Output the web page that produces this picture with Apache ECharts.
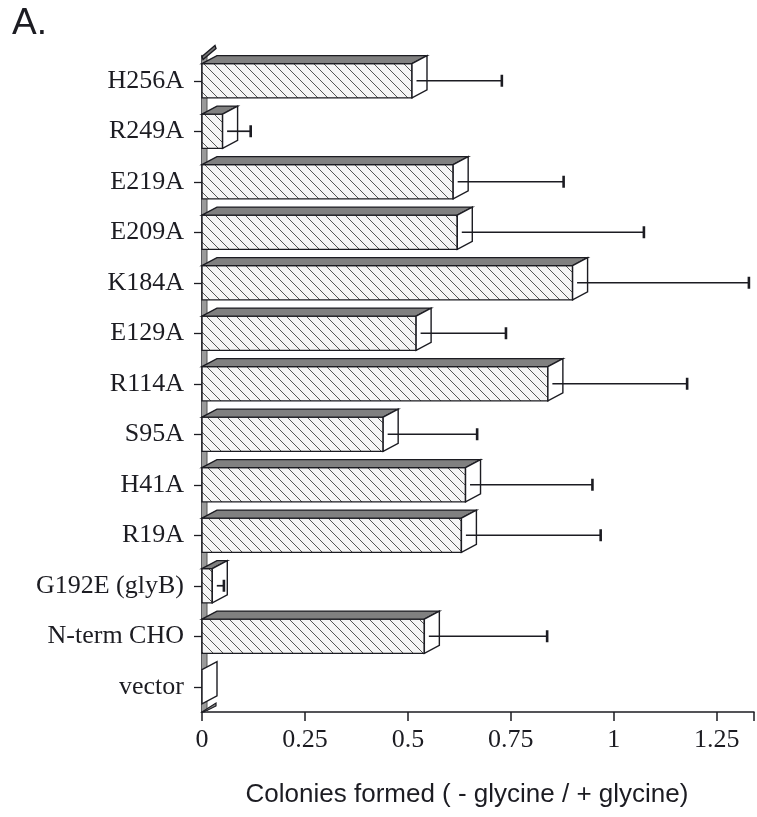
<!DOCTYPE html>
<html><head><meta charset="utf-8">
<script src="https://cdn.jsdelivr.net/npm/echarts@6/dist/echarts.min.js"></script>
<style>html,body{margin:0;padding:0;background:#fff}#c{width:757px;height:817px}</style>
</head><body><div id="c"></div>
<script>
const categories = ['H256A','R249A','E219A','E209A','K184A','E129A','R114A','S95A','H41A','R19A','G192E (glyB)','N-term CHO','vector'];
const values = [0.51, 0.05, 0.61, 0.62, 0.90, 0.52, 0.84, 0.44, 0.64, 0.63, 0.025, 0.54, 0];
const errors = [0.20, 0.05, 0.25, 0.435, 0.41, 0.20, 0.32, 0.21, 0.29, 0.32, 0.01, 0.28, 0];
const xTicks = [0, 0.25, 0.5, 0.75, 1, 1.25];
const xTitle = 'Colonies formed ( - glycine / + glycine)';
const panelLabel = 'A.';

const INK = '#1c1c22';
function makeHatch(){
  const c = document.createElement('canvas'); c.width = 10; c.height = 10;
  const g = c.getContext('2d');
  g.fillStyle = '#f5f5f5'; g.fillRect(0,0,10,10);
  g.strokeStyle = '#555555'; g.lineWidth = 1;
  g.beginPath();
  g.moveTo(-1,-1); g.lineTo(11,11);
  g.moveTo(-1,9); g.lineTo(1,11);
  g.moveTo(9,-1); g.lineTo(11,1);
  g.stroke();
  return c;
}
const hatchFill = {image: makeHatch(), repeat: 'repeat'};
const DX = 15, DY = 8;

function renderBar(params, api){
  const i = api.value(0), v = api.value(1), e = api.value(2);
  const c0 = api.coord([0, i]), c1 = api.coord([v, i]);
  const band = api.size([0, 1])[1];
  const h = band * 0.68;
  const x0 = c0[0], x1 = c1[0], cy = c0[1], yT = cy - h/2, yB = cy + h/2;
  const st = {stroke: INK, lineWidth: 1.4};
  const ch = [];
  if (x1 > x0 + 0.5) {
    ch.push({type:'rect', shape:{x:x0, y:yT, width:x1-x0, height:h}, style:Object.assign({fill:hatchFill}, st)});
    ch.push({type:'polygon', shape:{points:[[x0,yT],[x1,yT],[x1+DX,yT-DY],[x0+DX,yT-DY]]}, style:Object.assign({fill:'#808080'}, st)});
  }
  ch.push({type:'polygon', shape:{points:[[x1,yT],[x1+DX,yT-DY],[x1+DX,yB-DY],[x1,yB]]}, style:Object.assign({fill:'#ffffff'}, st)});
  if (e > 0) {
    const xe = api.coord([v + e, i])[0] + DX/2;
    ch.push({type:'line', shape:{x1:x1+DX/2-3, y1:cy, x2:xe, y2:cy}, style:{stroke:INK, lineWidth:1.7}});
    ch.push({type:'line', shape:{x1:xe, y1:cy-6, x2:xe, y2:cy+6}, style:{stroke:INK, lineWidth:2.6}});
  }
  return {type:'group', children:ch};
}

function renderWall(params, api){
  const cs = params.coordSys;
  const x = cs.x, top = cs.y, bot = cs.y + cs.height;
  return {type:'group', children:[
    {type:'rect', shape:{x:x, y:top, width:5, height:cs.height}, style:{fill:'#9a9a9a'}},
    {type:'line', shape:{x1:x+5, y1:top, x2:x+5, y2:bot}, style:{stroke:'#555', lineWidth:1}},
    {type:'polygon', shape:{points:[[x,top+1],[x+13,top-10],[x+14,top-7],[x+1,top+4]]}, style:{fill:'#777', stroke:INK, lineWidth:1.4}},
    {type:'polygon', shape:{points:[[x,bot],[x+14,bot-9],[x+14,bot-6],[x+2,bot]]}, style:{fill:'#888', stroke:INK, lineWidth:1.2}}
  ]};
}

const chart = echarts.init(document.getElementById('c'), null, {renderer:'canvas'});
chart.setOption({
  animation: false,
  backgroundColor: '#ffffff',
  graphic: [{type:'text', left: 12, top: 5, style:{text: panelLabel, fontFamily:'Liberation Sans', fontSize: 37, fill: INK}}],
  grid: {left: 202, right: 0, top: 55.5, bottom: 105, containLabel: false},
  xAxis: {
    type:'value', min: 0, max: 1.3406, interval: 0.25,
    axisLine:{show:true, lineStyle:{color:INK, width:1.5}},
    axisTick:{show:true, length:9, lineStyle:{color:INK, width:1.5}},
    splitLine:{show:false},
    axisLabel:{
      formatter: function(v){ return xTicks.some(t => Math.abs(t - v) < 1e-9) ? String(v) : ''; },
      fontFamily:'Liberation Serif', fontSize: 26, color: INK, margin: 15
    },
    name: xTitle, nameLocation:'middle', nameGap: 70,
    nameTextStyle:{fontFamily:'Liberation Sans', fontSize: 26, color: INK, padding:[0, 22, 0, 0]}
  },
  yAxis: {
    type:'category', data: categories, inverse: true,
    axisLine:{show:true, lineStyle:{color:INK, width:1.5}},
    axisTick:{show:true, alignWithLabel:true, length:8, lineStyle:{color:INK, width:1.3}},
    axisLabel:{fontFamily:'Liberation Serif', fontSize: 26, color: INK, margin: 18}
  },
  series: [
    {type:'custom', renderItem: renderWall, data:[[0, 0, 0]], encode:{x:1, y:0}, z: 1, silent:true},
    {type:'custom', renderItem: renderBar, data: values.map((v, i) => [i, v, errors[i]]), encode:{x:1, y:0}, z: 2}
  ]
});
</script>
</body></html>
